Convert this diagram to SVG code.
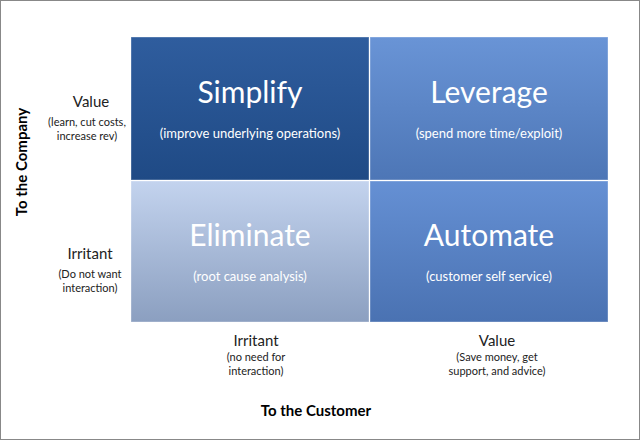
<svg xmlns="http://www.w3.org/2000/svg" width="640" height="440" viewBox="0 0 640 440">
<defs>
<linearGradient id="g1" x1="0" y1="0" x2="0" y2="1"><stop offset="0" stop-color="#2f5d9e"/><stop offset="1" stop-color="#1f4a85"/></linearGradient>
<linearGradient id="g2" x1="0" y1="0" x2="0" y2="1"><stop offset="0" stop-color="#6994d6"/><stop offset="1" stop-color="#4d76b6"/></linearGradient>
<linearGradient id="g3" x1="0" y1="0" x2="0" y2="1"><stop offset="0" stop-color="#c3d3ee"/><stop offset="1" stop-color="#8b9fc0"/></linearGradient>
<linearGradient id="g4" x1="0" y1="0" x2="0" y2="1"><stop offset="0" stop-color="#6590d4"/><stop offset="1" stop-color="#4a72b2"/></linearGradient>
</defs>
<style>
text{font-family:Lato,"Open Sans",sans-serif;text-anchor:middle}
.t{font-size:30px;fill:#fff}
.s{font-size:13px;fill:#fff}
.l{font-size:15px;fill:#222}
.ls{font-size:11px;fill:#222}
.ax{font-size:15px;font-weight:bold;fill:#000}
.q{stroke:#fff;stroke-opacity:0.35;stroke-width:1}
</style>
<rect x="0.5" y="0.5" width="639" height="439" fill="#fff" stroke="#888"/>
<g id="simplify"><rect class="q" x="131" y="37" width="238" height="143" fill="url(#g1)"/><text class="t" x="250" y="103">Simplify</text><text class="s" x="250" y="138">(improve underlying operations)</text></g>
<g id="leverage"><rect class="q" x="370" y="37" width="238" height="143" fill="url(#g2)"/><text class="t" x="489" y="103">Leverage</text><text class="s" x="489" y="138">(spend more time/exploit)</text></g>
<g id="eliminate"><rect class="q" x="131" y="181" width="238" height="141" fill="url(#g3)"/><text class="t" x="250" y="246">Eliminate</text><text class="s" x="250" y="281">(root cause analysis)</text></g>
<g id="automate"><rect class="q" x="370" y="181" width="238" height="141" fill="url(#g4)"/><text class="t" x="489" y="246">Automate</text><text class="s" x="489" y="281">(customer self service)</text></g>
<g id="connectors"/>
<g id="labels">
<text class="l" x="91" y="107">Value</text>
<text class="ls" x="87" y="126">(learn, cut costs,</text>
<text class="ls" x="87" y="140">increase rev)</text>
<text class="l" x="90" y="259">Irritant</text>
<text class="ls" x="90" y="278">(Do not want</text>
<text class="ls" x="90" y="292">interaction)</text>
<text class="l" x="256" y="346">Irritant</text>
<text class="ls" x="256" y="361">(no need for</text>
<text class="ls" x="256" y="375">interaction)</text>
<text class="l" x="497" y="346">Value</text>
<text class="ls" x="497" y="361">(Save money, get</text>
<text class="ls" x="497" y="375">support, and advice)</text>
<text class="ax" x="316" y="416">To the Customer</text>
<text class="ax" transform="translate(27,162) rotate(-90)">To the Company</text>
</g>
</svg>
